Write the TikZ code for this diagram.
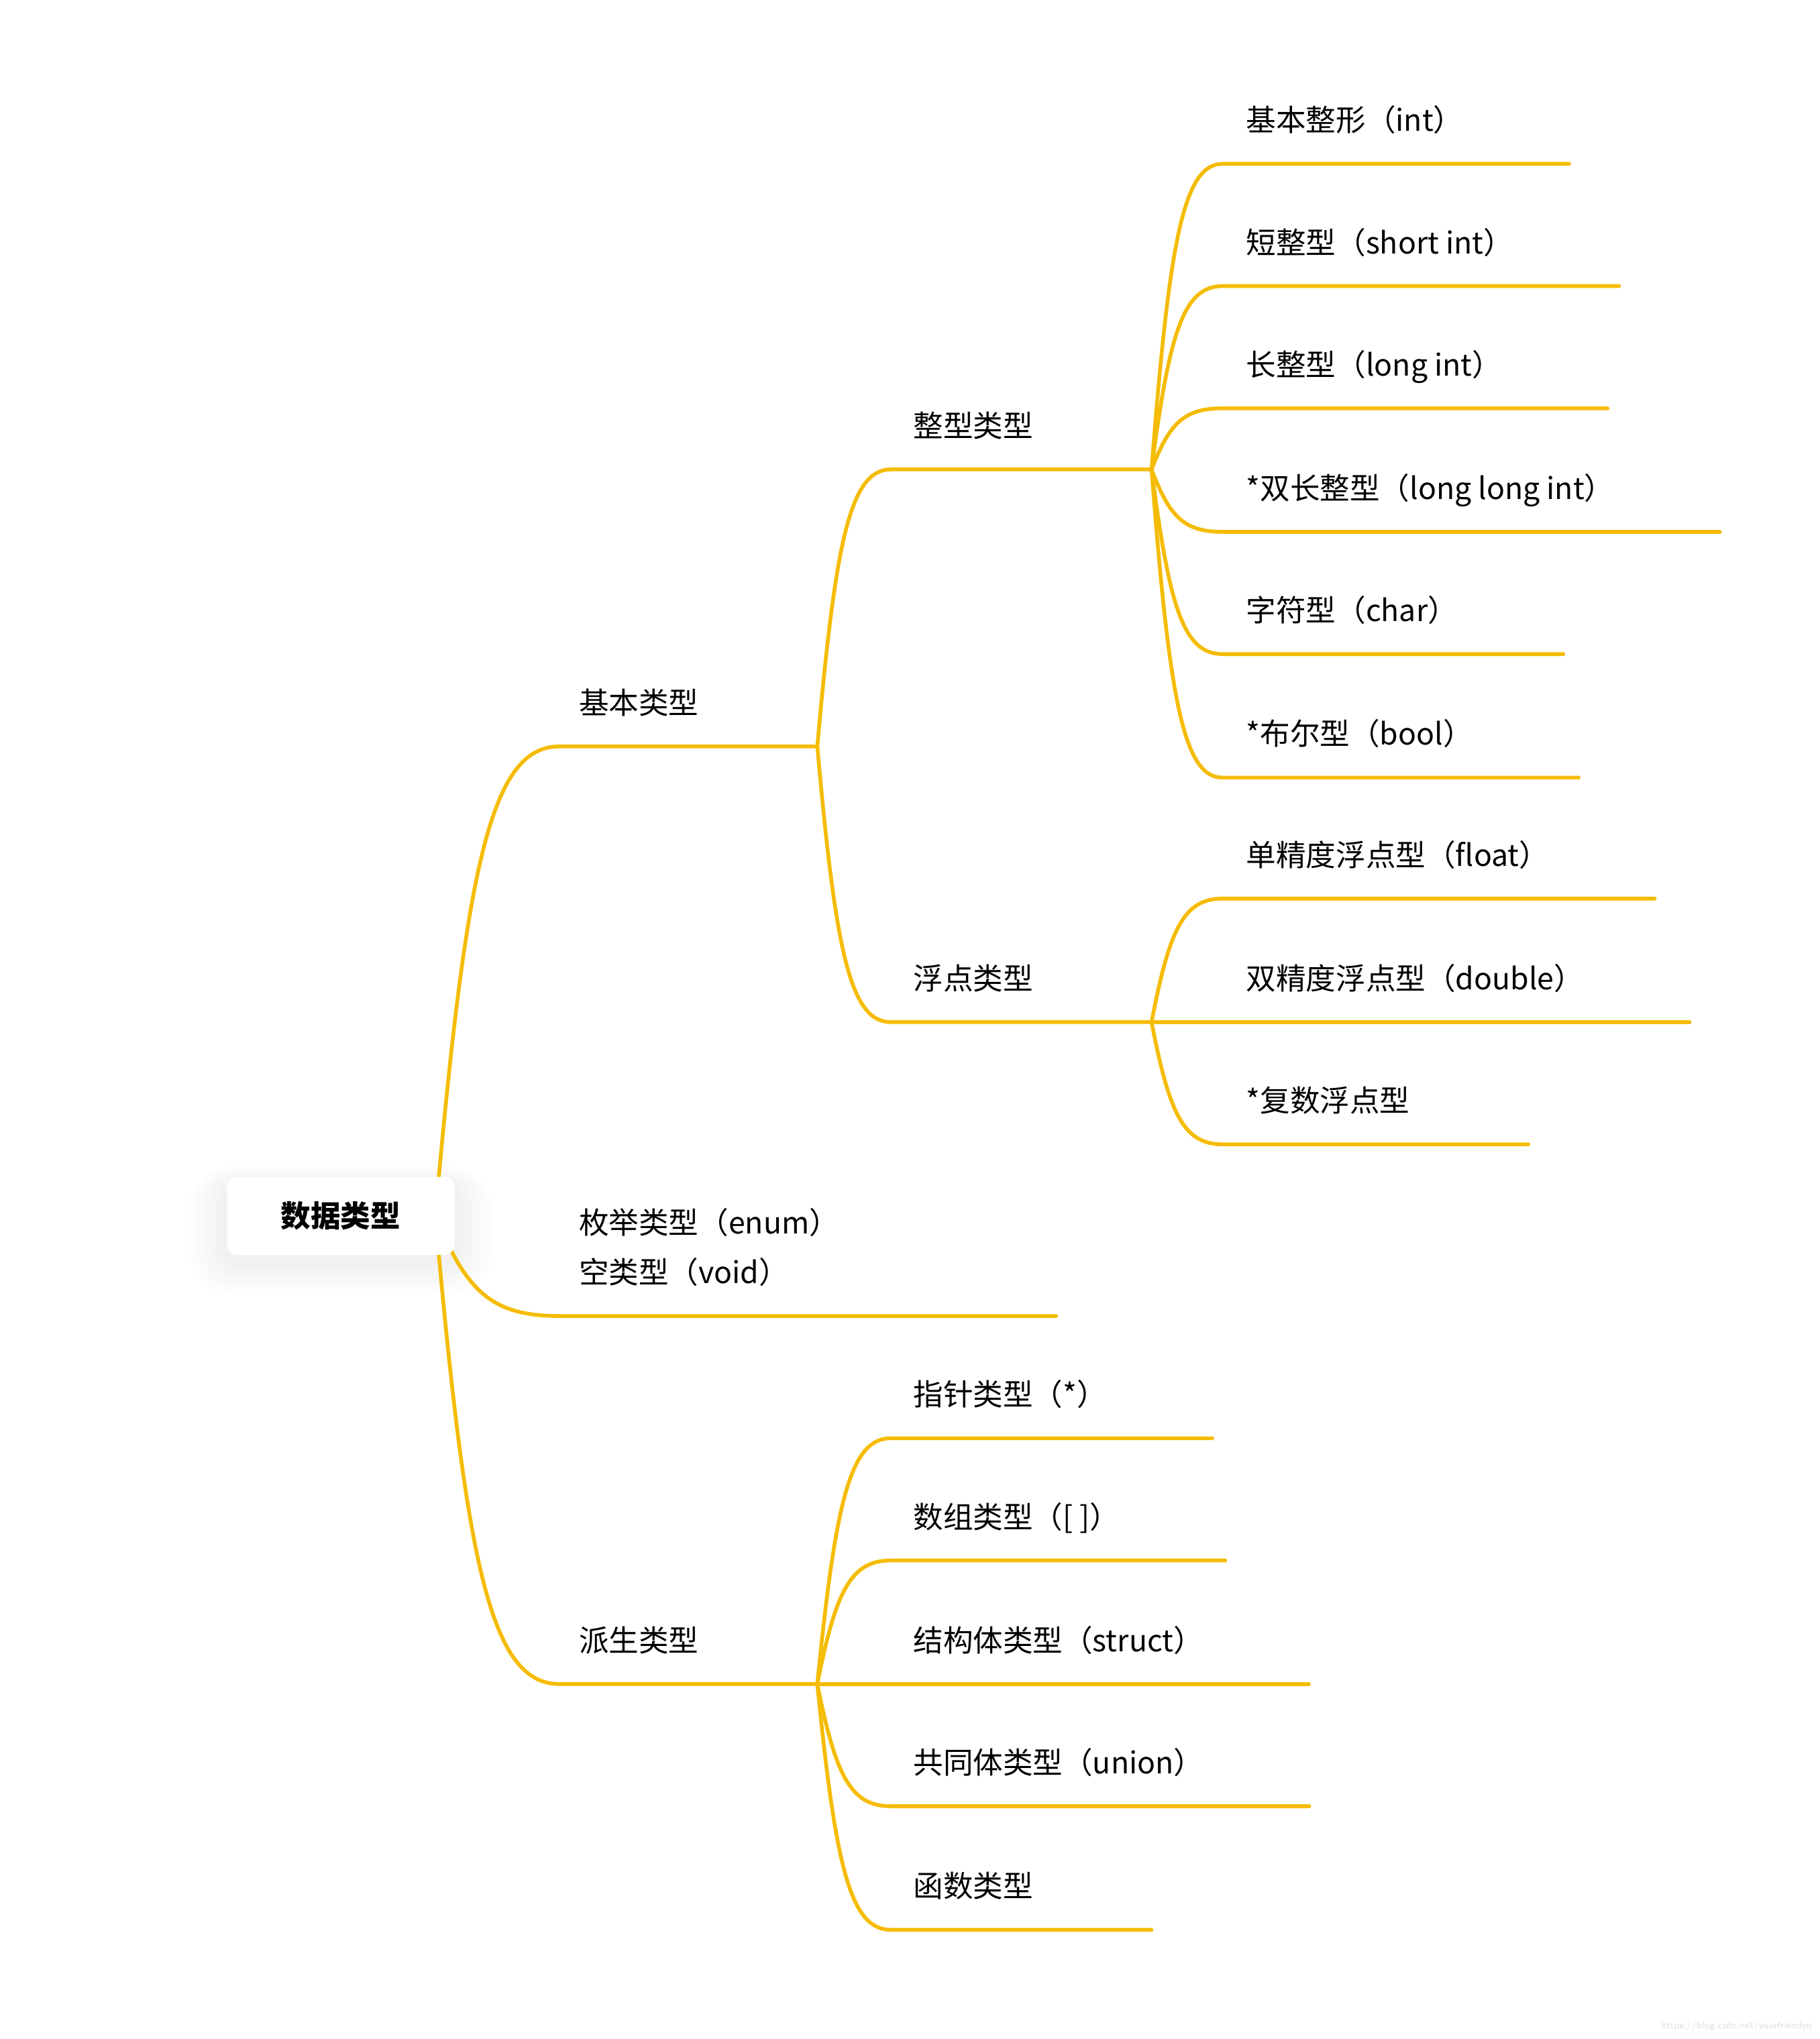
\documentclass[tikz,border=0pt]{standalone}
\usepackage{fontspec}
\setmainfont{Noto Sans CJK SC}
\usetikzlibrary{positioning,calc,backgrounds}
\definecolor{twiggold}{RGB}{245,188,6}
\tikzset{
  rootbox/.style={fill=white, rounded corners=8pt, minimum width=175pt, minimum height=60pt, inner sep=0pt, font=\fontsize{23}{28}\selectfont\bfseries},
  leaf/.style={inner sep=0pt, anchor=base west, font=\fontsize{23}{38}\selectfont},
  twig/.style={draw=twiggold, line width=2.9pt, line cap=round, line join=round},
  branch/.style={to path={let \p1=(\tikztostart), \p2=(\tikztotarget) in .. controls ({\x1+0.25*(\x2-\x1)},{\y1+0.75*(\y2-\y1)}) and ({\x1+0.45*(\x2-\x1)},\y2) .. (\tikztotarget)}}
}
\begin{document}
\begin{tikzpicture}[x=1pt,y=-1pt]
  \useasboundingbox (0,0) rectangle (1399,1568);
  \node[rootbox] (root) at (262,935) {数据类型};
  \coordinate (rootJ) at ([xshift=-15pt]root.east);

  \coordinate (basicS) at (430,574);
  \node[leaf] (basic) at ($(basicS)+(15,-25)$) {基本类型};
  \coordinate (basicJ) at ($(basic.east |- basicS)+(91,0)$);
  \coordinate (enumS) at (430,1012);
  \node[leaf, align=left] (enum) at ($(enumS)+(15,-25)$) {枚举类型（enum）\\空类型（void）};
  \coordinate (enumE) at (812,1012);
  \coordinate (derivS) at (430,1295);
  \node[leaf] (deriv) at ($(derivS)+(15,-25)$) {派生类型};
  \coordinate (derivJ) at ($(deriv.east |- derivS)+(91,0)$);

  \coordinate (intgS) at (685,361);
  \node[leaf] (intg) at ($(intgS)+(17,-25)$) {整型类型};
  \coordinate (intgJ) at ($(intg.east |- intgS)+(91,0)$);
  \coordinate (fltS) at (685,786);
  \node[leaf] (flt) at ($(fltS)+(17,-25)$) {浮点类型};
  \coordinate (fltJ) at ($(flt.east |- fltS)+(91,0)$);

  \coordinate (intS) at (940,126);
  \node[leaf] (int) at ($(intS)+(18,-25)$) {基本整形（int）};
  \coordinate (shtS) at (940,220);
  \node[leaf] (sht) at ($(shtS)+(18,-25)$) {短整型（short int）};
  \coordinate (lngS) at (940,314);
  \node[leaf] (lng) at ($(lngS)+(18,-25)$) {长整型（long int）};
  \coordinate (llngS) at (940,409);
  \node[leaf] (llng) at ($(llngS)+(18,-25)$) {*双长整型（long long int）};
  \coordinate (chrS) at (940,503);
  \node[leaf] (chr) at ($(chrS)+(18,-25)$) {字符型（char）};
  \coordinate (boolS) at (940,598);
  \node[leaf] (bool) at ($(boolS)+(18,-25)$) {*布尔型（bool）};

  \coordinate (floS) at (940,691);
  \node[leaf] (flo) at ($(floS)+(18,-25)$) {单精度浮点型（float）};
  \coordinate (dblS) at (940,786);
  \node[leaf] (dbl) at ($(dblS)+(18,-25)$) {双精度浮点型（double）};
  \coordinate (cpxS) at (940,880);
  \node[leaf] (cpx) at ($(cpxS)+(18,-25)$) {*复数浮点型};

  \coordinate (ptrS) at (685,1106);
  \node[leaf] (ptr) at ($(ptrS)+(17,-25)$) {指针类型（*）};
  \coordinate (arrS) at (685,1200);
  \node[leaf] (arr) at ($(arrS)+(17,-25)$) {数组类型（[ ]）};
  \coordinate (strcS) at (685,1295);
  \node[leaf] (strc) at ($(strcS)+(17,-25)$) {结构体类型（struct）};
  \coordinate (unnS) at (685,1389);
  \node[leaf] (unn) at ($(unnS)+(17,-25)$) {共同体类型（union）};
  \coordinate (funcS) at (685,1484);
  \node[leaf] (func) at ($(funcS)+(17,-25)$) {函数类型};

  \node[font=\fontsize{7.5}{8}\selectfont\sffamily, text=black!13, anchor=east, inner sep=0pt] (wm) at (1393,1558) {https://blog.csdn.net/yourfriendyo};

  \begin{scope}[on background layer]
    \foreach \i in {1,...,14}
      \fill[black, opacity=0.004, rounded corners={8pt+\i*2pt}]
        ($(root.south west)+(-\i*2.2,\i*1.8+6)$) rectangle ($(root.north east)+(\i*2.2,-\i*1.0+6)$);
    \draw[twig] (rootJ) to[branch] (basicS) -- (basicJ);
    \draw[twig] (rootJ) to[branch] (enumS) -- (enumE);
    \draw[twig] (rootJ) to[branch] (derivS) -- (derivJ);
    \draw[twig] (basicJ) to[branch] (intgS) -- (intgJ);
    \draw[twig] (basicJ) to[branch] (fltS) -- (fltJ);
    \draw[twig] (intgJ) to[branch] (intS) -- ($(int.east |- intS)+(81,0)$);
    \draw[twig] (intgJ) to[branch] (shtS) -- ($(sht.east |- shtS)+(81,0)$);
    \draw[twig] (intgJ) to[branch] (lngS) -- ($(lng.east |- lngS)+(81,0)$);
    \draw[twig] (intgJ) to[branch] (llngS) -- ($(llng.east |- llngS)+(81,0)$);
    \draw[twig] (intgJ) to[branch] (chrS) -- ($(chr.east |- chrS)+(81,0)$);
    \draw[twig] (intgJ) to[branch] (boolS) -- ($(bool.east |- boolS)+(81,0)$);
    \draw[twig] (fltJ) to[branch] (floS) -- ($(flo.east |- floS)+(81,0)$);
    \draw[twig] (fltJ) to[branch] (dblS) -- ($(dbl.east |- dblS)+(81,0)$);
    \draw[twig] (fltJ) to[branch] (cpxS) -- ($(cpx.east |- cpxS)+(91,0)$);
    \draw[twig] (derivJ) to[branch] (ptrS) -- ($(ptr.east |- ptrS)+(81,0)$);
    \draw[twig] (derivJ) to[branch] (arrS) -- ($(arr.east |- arrS)+(81,0)$);
    \draw[twig] (derivJ) to[branch] (strcS) -- ($(strc.east |- strcS)+(81,0)$);
    \draw[twig] (derivJ) to[branch] (unnS) -- ($(unn.east |- unnS)+(81,0)$);
    \draw[twig] (derivJ) to[branch] (funcS) -- ($(func.east |- funcS)+(91,0)$);
  \end{scope}
\end{tikzpicture}
\end{document}
